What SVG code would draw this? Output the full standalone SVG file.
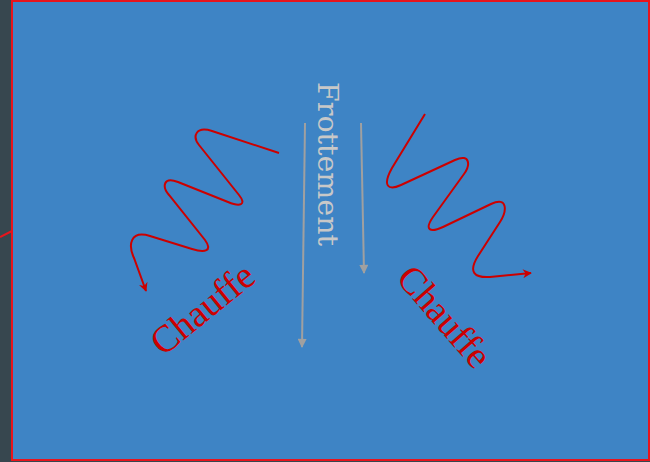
<svg xmlns="http://www.w3.org/2000/svg" width="650" height="462" viewBox="0 0 650 462">
<style>
.wave{fill:none;stroke:#cc0000;stroke-width:2}
.grey{fill:none;stroke:#a0a0a0;stroke-width:2}
.lbl{font-family:"Liberation Serif",serif;font-size:38px;fill:#cc0000}
</style>
<defs>
<marker id="ar" viewBox="0 0 10 10" refX="9" refY="5" markerWidth="11" markerHeight="9" orient="auto" markerUnits="userSpaceOnUse">
<path d="M0,0 L10,5 L0,10 L3,5 z" fill="#cc0000"/>
</marker>
<marker id="ag" viewBox="0 0 10 10" refX="9" refY="5" markerWidth="12" markerHeight="9" orient="auto" markerUnits="userSpaceOnUse">
<path d="M0,0 L10,5 L0,10 z" fill="#a0a0a0"/>
</marker>
</defs>
<rect x="0" y="0" width="650" height="462" fill="#37474f"/>
<g id="box">
<rect x="12" y="1" width="637" height="459" fill="#3e84c5" stroke="#e8141c" stroke-width="2"/>
</g>
<g id="connectors">
<path d="M0,237 L12,231" stroke="#e8141c" stroke-width="2" fill="none"/>
<path class="wave" marker-end="url(#ar)" d="M279,153 L212,131 C196,126 192,136 199,145 L239,195 C247,205 240,207 228,202 L178,182 C163,176 162,187 169,195 L205,240 C213,251 205,253 192,249 L150,236 C130,230 128,245 134,258 L146,291"/>
<path class="wave" marker-end="url(#ar)" d="M425,114 L392,168 C382,186 388,191 401,185 L455,160 C471,153 470,166 464,174 L433,217 C424,230 430,233 443,227 L491,204 C508,196 507,211 500,222 L478,256 C468,272 474,278 490,277 L531,273"/>
<path class="grey" marker-end="url(#ag)" d="M305,123 L302,347"/>
<path class="grey" marker-end="url(#ag)" d="M361,123 L364,273"/>
</g>
<g id="frottement">
<text transform="translate(318,82) rotate(90)" font-family="DejaVu Serif,serif" font-size="28.5" fill="#c8c8c8">Frottement</text>
</g>
<g id="chauffe-left">
<text class="lbl" transform="translate(163,357) rotate(-39)">Chauffe</text>
</g>
<g id="chauffe-right">
<text class="lbl" transform="translate(395,279) rotate(49)">Chauffe</text>
</g>
</svg>
